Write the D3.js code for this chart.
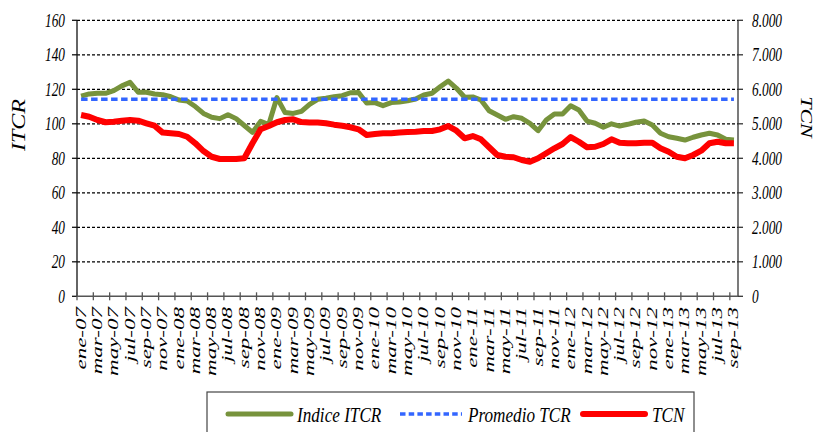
<!DOCTYPE html>
<html><head><meta charset="utf-8">
<script src="https://cdn.jsdelivr.net/npm/d3@7"></script>
<style>body{margin:0;background:#fff}svg{display:block}text{font-family:"Liberation Serif","Times New Roman",serif;font-style:italic;fill:#000}</style>
</head><body><svg id="c" width="817" height="432"></svg>
<script>
const monthNames = ["ene","feb","mar","abr","may","jun","jul","ago","sep","oct","nov","dic"];
const years = ["07","08","09","10","11","12","13"];
const categories = [];
years.forEach(yy => monthNames.forEach(m => categories.push(m + "-" + yy)));
categories.splice(81); // ene-07 .. sep-13

const itcr = [116,117.3,117.7,117.7,119.2,122,124,118.3,118.3,117.3,116.9,115.7,113.8,113.2,110,106,103.8,103,105.3,103,
  99,95,101.4,99.6,115.2,106.5,106,107.2,111.3,114.2,114.8,115.7,116.3,118,118.2,112,112.3,110.5,112.3,112.6,
  113.4,114.4,116.7,117.7,121.5,124.8,120.6,115.4,115.6,113.8,107.6,105.1,102.6,104.1,103.2,100.3,96,102.2,105.7,105.7,
  110.5,108,101.6,100.3,98,100,98.7,99.7,100.9,101.6,99.3,94.5,92.5,91.6,90.6,92.2,93.5,94.5,93.5,91,90.6];
const tcn = [5255,5205,5110,5045,5060,5090,5110,5090,5015,4945,4745,4725,4705,4625,4435,4210,4045,3980,3980,3980,
  4000,4435,4840,4935,5045,5110,5130,5050,5035,5035,5015,4975,4945,4900,4840,4675,4705,4725,4725,4745,
  4760,4770,4790,4790,4840,4935,4800,4580,4645,4550,4320,4095,4045,4030,3950,3900,4000,4145,4290,4415,
  4615,4480,4320,4335,4415,4550,4450,4435,4435,4450,4450,4290,4190,4045,4000,4095,4220,4435,4480,4435,4435];
const promedioTCR = 114.2;
const leftTicks = [0,20,40,60,80,100,120,140,160];
const rightTicks = [0,1000,2000,3000,4000,5000,6000,7000,8000];
const seriesNames = ["Indice ITCR","Promedio TCR","TCN"];

const svg = d3.select("#c");
const L = 77, R = 738, T = 20.3, B = 296.3;
const x = d3.scaleBand().domain(categories).range([L, R]).paddingInner(0).paddingOuter(0);
const bw = x.bandwidth();
const cx = c => x(c) + bw / 2;
const y = d3.scaleLinear().domain([0,160]).range([B, T]);
const y2 = d3.scaleLinear().domain([0,8000]).range([B, T]);
const fmtR = d3.formatLocale({decimal:",", thousands:".", grouping:[3], currency:["",""]}).format(",");

// gridlines
svg.append("g").selectAll("line").data(leftTicks.filter(d => d > 0)).join("line")
  .attr("x1", L).attr("x2", R).attr("y1", d => y(d)).attr("y2", d => y(d))
  .attr("stroke", "#000").attr("stroke-width", 1.3).attr("stroke-dasharray", "3,2");

// left axis
const gl = svg.append("g");
gl.append("line").attr("x1", L).attr("x2", L).attr("y1", T).attr("y2", B).attr("stroke", "#111").attr("stroke-width", 1.3);
gl.selectAll(".t").data(leftTicks).join("line").attr("x1", L - 5).attr("x2", L).attr("y1", d => y(d)).attr("y2", d => y(d)).attr("stroke", "#111").attr("stroke-width", 1.3);
gl.selectAll("text").data(leftTicks).join("text")
  .attr("transform", d => `translate(65,${y(d)}) scale(0.72,1)`)
  .attr("text-anchor", "end").attr("dy", "0.35em").style("font-size", "18.5px").text(d => d);

// right axis
const gr = svg.append("g");
gr.append("line").attr("x1", R).attr("x2", R).attr("y1", T).attr("y2", B).attr("stroke", "#333").attr("stroke-width", 1.3);
gr.selectAll(".t").data(rightTicks).join("line").attr("x1", R).attr("x2", R + 5).attr("y1", d => y2(d)).attr("y2", d => y2(d)).attr("stroke", "#333").attr("stroke-width", 1.3);
gr.selectAll("text").data(rightTicks).join("text")
  .attr("transform", d => `translate(752,${y2(d)}) scale(0.72,1)`)
  .attr("text-anchor", "start").attr("dy", "0.35em").style("font-size", "18.5px").text(d => fmtR(d));

// x axis
const gx = svg.append("g");
gx.append("line").attr("x1", L).attr("x2", R).attr("y1", B).attr("y2", B).attr("stroke", "#555").attr("stroke-width", 1.5);
const tickCats = categories.filter((c, i) => i % 2 === 0);
gx.selectAll(".t").data(tickCats).join("line")
  .attr("x1", d => x(d)).attr("x2", d => x(d)).attr("y1", B - 4).attr("y2", B + 4)
  .attr("stroke", "#555").attr("stroke-width", 1.3);
gx.selectAll("text").data(tickCats).join("text")
  .attr("transform", d => `translate(${cx(d) + 4.5},307) rotate(-90) scale(1,0.6)`)
  .attr("text-anchor", "end").style("font-size", "23px").text(d => d);

// axis titles
svg.append("text").attr("transform", "translate(25,125) rotate(-90) scale(1,0.78)")
  .attr("text-anchor", "middle").style("font-size", "24px").text("ITCR");
svg.append("text").attr("transform", "translate(801,117) rotate(90) scale(1,0.8)")
  .attr("text-anchor", "middle").style("font-size", "22px").text("TCN");

// series
const colors = ["#77933C", "#3366FF", "#FF0000"];
const line = d3.line().x(d => cx(d.c)).y(d => d.y);
svg.append("path").datum(categories.map((c, i) => ({c, y: y(itcr[i])})))
  .attr("d", line).attr("fill", "none").attr("stroke", colors[0]).attr("stroke-width", 5).attr("stroke-linejoin", "round");
svg.append("path").datum(categories.map(c => ({c, y: y(promedioTCR)})))
  .attr("d", line).attr("fill", "none").attr("stroke", colors[1]).attr("stroke-width", 3.5).attr("stroke-dasharray", "6.5,3.5");
svg.append("path").datum(categories.map((c, i) => ({c, y: y2(tcn[i])})))
  .attr("d", line).attr("fill", "none").attr("stroke", colors[2]).attr("stroke-width", 6).attr("stroke-linejoin", "round");

// legend
const lg = svg.append("g");
lg.append("rect").attr("x", 207).attr("y", 392).attr("width", 487).attr("height", 60).attr("fill", "#fff").attr("stroke", "#444").attr("stroke-width", 1.2);
const items = [
  {x1: 228, x2: 291, tx: 297, w: 5, dash: null, cap: "round"},
  {x1: 400, x2: 462, tx: 468, w: 3.5, dash: "5.5,3.2", cap: "butt"},
  {x1: 583, x2: 645, tx: 652, w: 6, dash: null, cap: "round"}
];
items.forEach((it, i) => {
  lg.append("line").attr("x1", it.x1).attr("x2", it.x2).attr("y1", 414).attr("y2", 414)
    .attr("stroke", colors[i]).attr("stroke-width", it.w).attr("stroke-linecap", it.cap)
    .attr("stroke-dasharray", it.dash);
  lg.append("text").attr("transform", `translate(${it.tx},421.5) scale(0.78,1)`)
    .style("font-size", "22px").text(seriesNames[i]);
});
</script></body></html>
